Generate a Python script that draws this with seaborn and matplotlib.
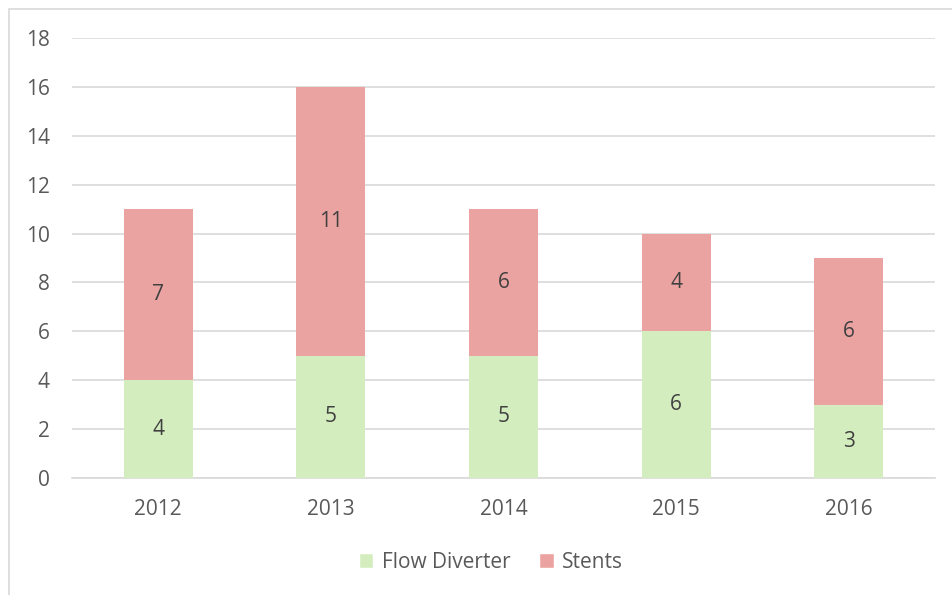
import matplotlib
matplotlib.use("Agg")
import matplotlib.pyplot as plt
import seaborn as sns
import pandas as pd
from matplotlib.patches import Rectangle, Patch

years = ["2012", "2013", "2014", "2015", "2016"]
flow_diverter = [4, 5, 5, 6, 3]
stents = [7, 11, 6, 4, 6]
y_ticks = [0, 2, 4, 6, 8, 10, 12, 14, 16, 18]

GREEN = "#D4EDBF"
RED = "#EBA3A1"
TXT = "#595959"
GRID = "#D9D9D9"

sns.set_theme(style="white")
plt.rcParams['font.family'] = ['Open Sans', 'DejaVu Sans']
FS = 15

df = pd.DataFrame({"year": years, "fd": flow_diverter, "st": stents})
df["total"] = df["fd"] + df["st"]

fig = plt.figure(figsize=(9.52, 5.95), dpi=100)
W, H = 952, 595
ax = fig.add_axes([72 / W, 1 - 478 / H, (935 - 72) / W, (478 - 38) / H])

sns.barplot(data=df, x="year", y="total", color=RED, width=0.4, ax=ax,
            saturation=1, linewidth=0, zorder=3)
sns.barplot(data=df, x="year", y="fd", color=GREEN, width=0.4, ax=ax,
            saturation=1, linewidth=0, zorder=4)

for i, (f, s) in enumerate(zip(flow_diverter, stents)):
    ax.text(i, f / 2, str(f), ha="center", va="center", fontsize=FS, color="#404040", zorder=5)
    ax.text(i, f + s / 2, str(s), ha="center", va="center", fontsize=FS, color="#404040", zorder=5)

ax.set_xlim(-0.5, 4.5)
ax.set_ylim(0, 18)
ax.set_yticks(y_ticks)
ax.set_yticklabels([str(t) for t in y_ticks])
ax.set_xlabel("")
ax.set_ylabel("")
ax.yaxis.grid(True, color=GRID, linewidth=1.2, zorder=0)
ax.set_axisbelow(True)
for sp in ["top", "right", "left"]:
    ax.spines[sp].set_visible(False)
ax.spines["bottom"].set_color(GRID)
ax.spines["bottom"].set_linewidth(1.2)
ax.tick_params(axis="both", length=0, labelsize=FS, labelcolor=TXT)
ax.tick_params(axis="y", pad=16)
ax.tick_params(axis="x", pad=15)

handles = [Patch(facecolor=GREEN, label="Flow Diverter"), Patch(facecolor=RED, label="Stents")]
fig.legend(handles=handles, loc="center", bbox_to_anchor=(491 / W, 1 - 562 / H), ncol=2,
           frameon=False, fontsize=FS, labelcolor=TXT, handlelength=0.7, handleheight=0.7,
           handletextpad=0.4, columnspacing=1.4)

fig.patches.append(Rectangle((8.5 / W, -0.1), 1.2, 1 - 9.5 / H + 0.1, transform=fig.transFigure,
                             fill=False, edgecolor=GRID, linewidth=1.2))

fig.savefig("out.png", dpi=100, facecolor="white")
